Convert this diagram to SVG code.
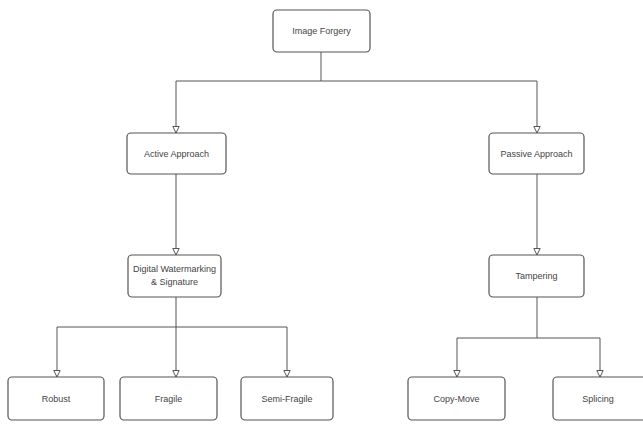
<svg xmlns="http://www.w3.org/2000/svg" width="643" height="424" viewBox="0 0 643 424">
<defs>
<marker id="arr" markerWidth="10" markerHeight="10" refX="7" refY="4" orient="auto" markerUnits="userSpaceOnUse">
<path d="M0.5,0.8 L7,4 L0.5,7.2 Z" fill="#fff" stroke="#555" stroke-width="1"/>
</marker>
<style>
.box{fill:#fff;stroke:#555;stroke-width:1.2}
.t{font-family:"Liberation Sans",Arial,sans-serif;font-size:9px;fill:#444;text-anchor:middle}
.c{fill:none;stroke:#555;stroke-width:1}
</style>
</defs>
<rect width="643" height="424" fill="#fff"/>
<g id="connectors">
<path class="c" d="M321,52 V81"/>
<path class="c" d="M176,81 H537"/>
<path class="c" d="M176,81 V133" marker-end="url(#arr)"/>
<path class="c" d="M537,81 V133" marker-end="url(#arr)"/>
<path class="c" d="M176,174 V255" marker-end="url(#arr)"/>
<path class="c" d="M537,174 V255" marker-end="url(#arr)"/>
<path class="c" d="M176,297 V327"/>
<path class="c" d="M57,327 H287"/>
<path class="c" d="M57,327 V377" marker-end="url(#arr)"/>
<path class="c" d="M176,327 V377" marker-end="url(#arr)"/>
<path class="c" d="M287,327 V377" marker-end="url(#arr)"/>
<path class="c" d="M537,297 V338"/>
<path class="c" d="M457,338 H600"/>
<path class="c" d="M457,338 V377" marker-end="url(#arr)"/>
<path class="c" d="M600,338 V377" marker-end="url(#arr)"/>
</g>
<g id="image-forgery"><rect class="box" x="273" y="10" width="97" height="42" rx="4"/><text class="t" x="321.5" y="34">Image Forgery</text></g>
<g id="active-approach"><rect class="box" x="127" y="133" width="99" height="41" rx="4"/><text class="t" x="176.5" y="157">Active Approach</text></g>
<g id="passive-approach"><rect class="box" x="489" y="133" width="95" height="41" rx="4"/><text class="t" x="536.5" y="157">Passive Approach</text></g>
<g id="digital-watermarking"><rect class="box" x="128" y="255" width="93" height="42" rx="4"/><text class="t" x="174.5" y="272">Digital Watermarking</text><text class="t" x="174.5" y="285">&amp; Signature</text></g>
<g id="tampering"><rect class="box" x="489" y="255" width="95" height="42" rx="4"/><text class="t" x="536.5" y="279">Tampering</text></g>
<g id="robust"><rect class="box" x="8" y="377" width="96" height="43" rx="4"/><text class="t" x="56" y="402">Robust</text></g>
<g id="fragile"><rect class="box" x="120" y="377" width="97" height="43" rx="4"/><text class="t" x="168.5" y="402">Fragile</text></g>
<g id="semi-fragile"><rect class="box" x="241" y="377" width="92" height="43" rx="4"/><text class="t" x="287" y="402">Semi-Fragile</text></g>
<g id="copy-move"><rect class="box" x="408" y="377" width="97" height="43" rx="4"/><text class="t" x="456.5" y="402">Copy-Move</text></g>
<g id="splicing"><rect class="box" x="553" y="377" width="94" height="43" rx="4"/><text class="t" x="598" y="402">Splicing</text></g>
</svg>
